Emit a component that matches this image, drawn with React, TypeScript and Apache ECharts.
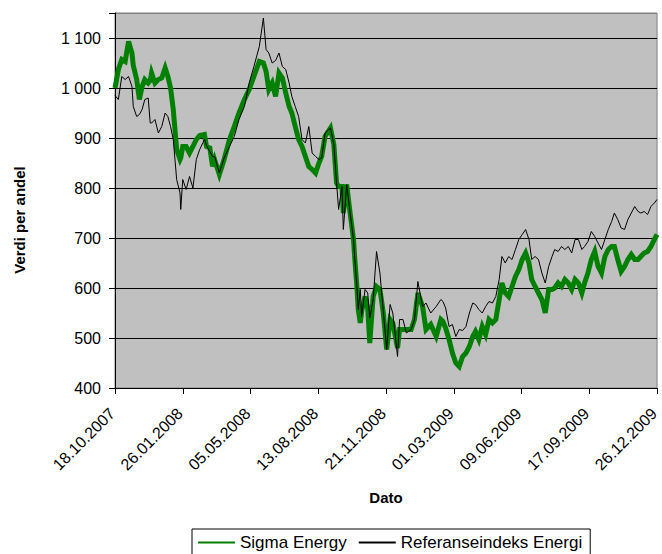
import React, { useEffect, useRef } from "react";
import * as echarts from "echarts";

// Days since 18.10.2007 for each sample
const dayOffsets = [
  0, 5, 10, 15, 20, 25, 27, 32, 36, 40,
  44, 49, 52, 54, 59, 64, 69, 74, 78, 82,
  86, 91, 96, 97, 100, 105, 110, 115, 120, 125,
  132, 135, 140, 144, 147, 154, 161, 169, 176, 183,
  191, 198, 205, 213, 219, 223, 227, 232, 237, 242,
  247, 252, 257, 261, 266, 271, 276, 281, 286, 291,
  296, 301, 305, 310, 318, 323, 327, 330, 335, 337,
  342, 347, 352, 354, 357, 359, 362, 364, 369, 373,
  376, 381, 386, 391, 396, 401, 406, 410, 417, 420,
  425, 430, 437, 442, 447, 454, 459, 466, 474, 481,
  484, 488, 493, 498, 503, 508, 513, 518, 523, 528,
  532, 537, 542, 547, 552, 557, 562, 567, 571, 576,
  581, 586, 591, 596, 601, 606, 611, 615, 620, 625,
  630, 635, 640, 645, 649, 654, 659, 664, 669, 674,
  679, 684, 689, 693, 698, 703, 708, 713, 718, 723,
  728, 733, 737, 742, 747, 752, 757, 762, 767, 772,
  776, 781, 786, 791, 796, 800,
];

const sigmaEnergy = [
  1000, 1037, 1057, 1053, 1093, 1070, 1045, 1017, 977, 1003,
  1017, 1010, 1015, 1030, 1010, 1017, 1020, 1040, 1023, 1000,
  957, 877, 857, 860, 883, 883, 870, 883, 897, 905,
  907, 883, 880, 843, 857, 827, 857, 897, 923, 950,
  977, 997, 1023, 1053, 1050, 1033, 997, 1010, 983, 1030,
  1020, 990, 963, 950, 923, 897, 883, 863, 843, 837,
  830, 850, 863, 903, 920, 887, 810, 803, 803, 750,
  807, 750, 697, 657, 603, 557, 530, 553, 583, 560,
  490, 583, 603, 597, 550, 477, 537, 530, 480, 517,
  517, 517, 517, 537, 590, 563, 517, 527, 503, 537,
  533, 520, 497, 470, 450, 443, 463, 470, 483, 503,
  513, 497, 523, 507, 537, 530, 537, 577, 610, 590,
  583, 603, 623, 637, 657, 670, 650, 617, 603, 590,
  577, 550, 597, 597, 600, 610, 603, 617, 610, 597,
  617, 610, 590, 610, 630, 657, 673, 643, 630, 663,
  677, 683, 683, 657, 633, 643, 657, 667, 657, 657,
  663, 670, 673, 683, 697, 707,
];

const referanseindeks = [
  985, 977, 1023, 1017, 1023, 1003, 963, 943, 947, 957,
  977, 980, 930, 930, 937, 910, 923, 950, 943, 923,
  897, 817, 790, 757, 817, 797, 823, 800, 857, 877,
  897, 885, 873, 863, 863, 830, 860, 883, 903, 937,
  963, 1010, 1043, 1083, 1140, 1077, 1070, 1050, 1055, 1070,
  1043, 1037, 1010, 983, 963, 943, 897, 890, 923, 870,
  863, 857, 860, 910, 920, 887, 810, 757, 803, 717,
  807, 750, 697, 657, 603, 557, 597, 543, 597, 590,
  540, 577, 673, 630, 553, 477, 567, 550, 463, 537,
  537, 510, 517, 537, 613, 563, 570, 550, 563, 577,
  573, 560, 523, 527, 503, 517, 515, 523, 550, 570,
  567, 557, 550, 563, 573, 570, 583, 617, 663, 650,
  663, 657, 677, 697, 707, 717, 697, 657, 663, 657,
  630, 610, 643, 663, 677, 673, 683, 677, 683, 670,
  697, 697, 677, 683, 693, 713, 703, 690, 677, 697,
  717, 733, 750, 737, 720, 717, 737, 750, 763, 753,
  750, 753, 747, 763, 770, 777,
];

const seriesNames = ["Sigma Energy", "Referanseindeks Energi"];
const startDateUTC = Date.UTC(2007, 9, 18);
const xTitle = "Dato";
const yTitle = "Verdi per andel";

const FONT = '"Liberation Sans", Arial, sans-serif';

function fmtDate(v: number): string {
  const d = new Date(startDateUTC + Math.round(v) * 86400000);
  const dd = String(d.getUTCDate()).padStart(2, "0");
  const mm = String(d.getUTCMonth() + 1).padStart(2, "0");
  return `${dd}.${mm}.${d.getUTCFullYear()}`;
}

function fmtNum(v: number): string {
  if (v > 1100) return "";
  const s = String(Math.round(v));
  return s.length > 3 ? s.slice(0, s.length - 3) + " " + s.slice(-3) : s;
}

export default function App() {
  const ref = useRef<HTMLDivElement>(null);
  useEffect(() => {
    if (!ref.current) return;
    const chart = echarts.init(ref.current, undefined, { renderer: "svg" });
    const gData = dayOffsets.map((d, i) => [d, sigmaEnergy[i]]);
    const bData = dayOffsets.map((d, i) => [d, referanseindeks[i]]);
    chart.setOption({
      animation: false,
      backgroundColor: "#ffffff",
      textStyle: { fontFamily: FONT, color: "#000" },
      grid: {
        left: 115,
        right: 1,
        top: 13,
        bottom: 166,
        show: true,
        backgroundColor: "#C0C0C0",
        borderColor: "#808080",
        borderWidth: 1,
      },
      legend: {
        left: 192,
        top: 529,
        orient: "horizontal",
        itemWidth: 37,
        itemHeight: 14,
        itemGap: 11,
        padding: [5, 8, 14, 5],
        borderColor: "#000",
        borderWidth: 1,
        borderRadius: 0,
        backgroundColor: "#fff",
        itemStyle: { opacity: 0 },
        textStyle: { fontFamily: FONT, fontSize: 17, color: "#000" },
        data: seriesNames,
      },
      xAxis: {
        type: "value",
        min: 0,
        max: 800,
        interval: 100,
        name: xTitle,
        nameLocation: "middle",
        nameGap: 102,
        nameTextStyle: { fontFamily: FONT, fontSize: 15, fontWeight: "bold", color: "#000" },
        axisLine: { show: true, onZero: false, lineStyle: { color: "#000", width: 1 } },
        axisTick: { show: true, inside: false, length: 6, lineStyle: { color: "#000" } },
        axisLabel: {
          rotate: 45,
          margin: 20,
          padding: [0, 4, 0, 0],
          fontFamily: FONT,
          fontSize: 16,
          color: "#000",
          showMinLabel: true,
          showMaxLabel: true,
          hideOverlap: false,
          formatter: (v: number) => fmtDate(v),
        },
        splitLine: { show: false },
      },
      yAxis: {
        type: "value",
        min: 400,
        max: 1150,
        interval: 100,
        axisLine: { show: true, lineStyle: { color: "#000", width: 1 } },
        axisTick: { show: true, inside: false, length: 6, lineStyle: { color: "#000" } },
        axisLabel: {
          margin: 14,
          fontFamily: FONT,
          fontSize: 16,
          color: "#000",
          formatter: (v: number) => fmtNum(v),
        },
        splitLine: {
          show: true,
          lineStyle: {
            color: ["#000", "#000", "#000", "#000", "#000", "#000", "#000", "#000", "#808080"],
            width: 1,
          },
        },
      },
      graphic: [
        {
          type: "text",
          x: 19,
          y: 220,
          rotation: Math.PI / 2,
          style: {
            text: yTitle,
            font: `bold 15px ${FONT}`,
            fill: "#000",
            align: "center",
            verticalAlign: "middle",
          },
        },
      ],
      series: [
        {
          name: seriesNames[0],
          type: "line",
          data: gData,
          symbol: "none",
          showSymbol: false,
          lineStyle: { color: "#008000", width: 5, join: "miter" },
          itemStyle: { color: "#008000" },
          z: 2,
        },
        {
          name: seriesNames[1],
          type: "line",
          data: bData,
          symbol: "none",
          showSymbol: false,
          lineStyle: { color: "#000000", width: 1 },
          itemStyle: { color: "#000000" },
          z: 3,
        },
      ],
    });
    return () => chart.dispose();
  }, []);
  return (
    <div
      ref={ref}
      style={{ position: "fixed", left: 0, top: 0, width: 662, height: 554, background: "#fff" }}
    />
  );
}
